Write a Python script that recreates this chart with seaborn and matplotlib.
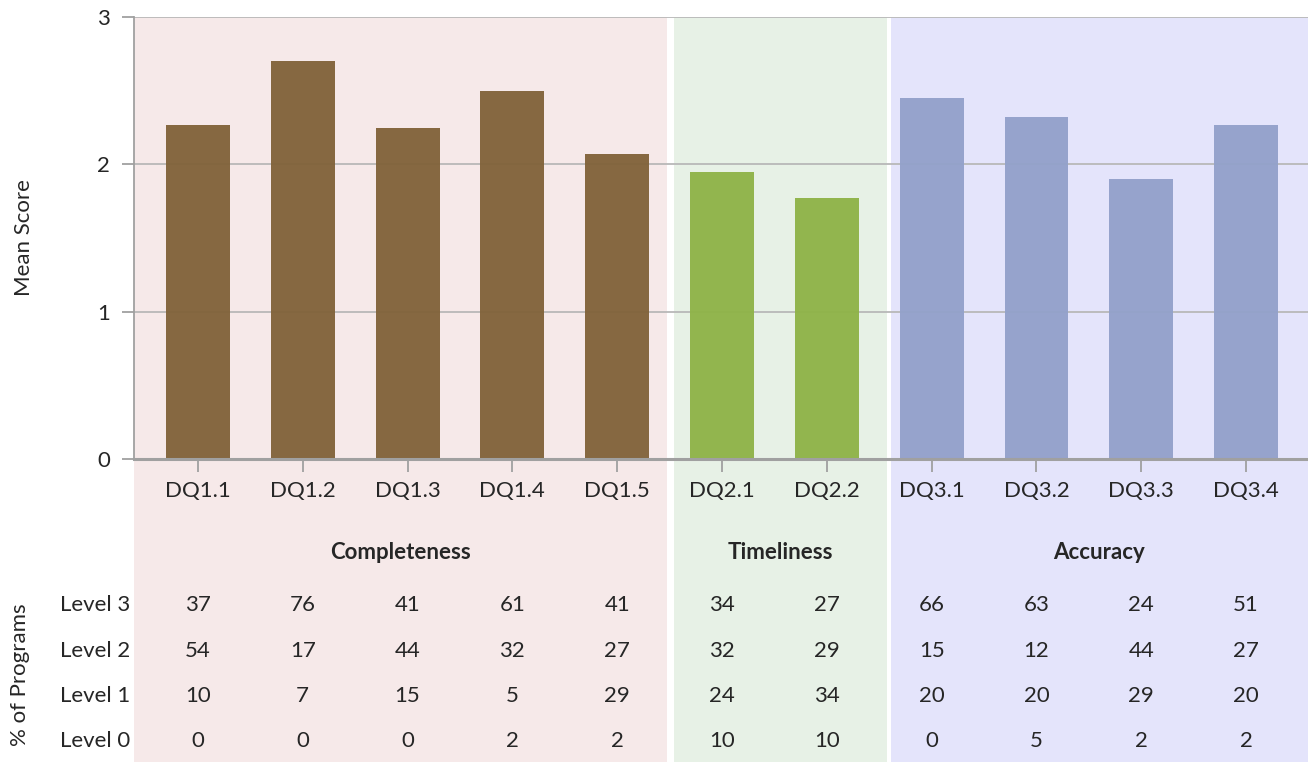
"""Mean data quality scores by indicator, with level breakdown table"""

import matplotlib
matplotlib.use('Agg')
import matplotlib.pyplot as plt
import matplotlib.transforms as mtransforms
from matplotlib.patches import Rectangle
import pandas as pd
import seaborn as sns

# Data
indicators = ['DQ1.1', 'DQ1.2', 'DQ1.3', 'DQ1.4', 'DQ1.5',
              'DQ2.1', 'DQ2.2',
              'DQ3.1', 'DQ3.2', 'DQ3.3', 'DQ3.4']
dimensions = ['Completeness'] * 5 + ['Timeliness'] * 2 + ['Accuracy'] * 4
mean_scores = [2.27, 2.70, 2.25, 2.50, 2.07, 1.95, 1.77, 2.45, 2.32, 1.90, 2.27]

level3 = [37, 76, 41, 61, 41, 34, 27, 66, 63, 24, 51]
level2 = [54, 17, 44, 32, 27, 32, 29, 15, 12, 44, 27]
level1 = [10, 7, 15, 5, 29, 24, 34, 20, 20, 29, 20]
level0 = [0, 0, 0, 2, 2, 10, 10, 0, 5, 2, 2]
level_labels = ['Level 3', 'Level 2', 'Level 1', 'Level 0']

dim_names = ['Completeness', 'Timeliness', 'Accuracy']
bar_colors = {'Completeness': '#81633a', 'Timeliness': '#8fb348', 'Accuracy': '#93a1ca'}
bg_colors = {'Completeness': '#f6e9e9', 'Timeliness': '#e7f1e6', 'Accuracy': '#e4e4fb'}

df = pd.DataFrame({'indicator': indicators, 'dimension': dimensions, 'score': mean_scores})

sns.set_style('white')
plt.rcParams['font.family'] = ['Lato', 'DejaVu Sans']

fig = plt.figure(figsize=(13.08, 7.62), dpi=100)
ax = fig.add_axes([0.1024, 0.3976, 0.8976, 0.5801])
ax.set_facecolor('none')

# Background bands (span from top of axes down to bottom of figure)
trans = mtransforms.blended_transform_factory(ax.transData, fig.transFigure)
x_left, x_right = -0.61, 10.59
spans = {'Completeness': (x_left, 4.475),
         'Timeliness': (4.54, 6.57),
         'Accuracy': (6.61, x_right)}
top_fig = 0.3976 + 0.5801
for name in dim_names:
    a, b = spans[name]
    fig.patches.append(Rectangle((a, 0), b - a, top_fig, transform=trans,
                                 facecolor=bg_colors[name], edgecolor='none', zorder=-5))

ax.yaxis.grid(True, color='#b8b8b8', linewidth=1.3, zorder=0)
ax.set_axisbelow(True)

sns.barplot(data=df, x='indicator', y='score', hue='dimension',
            palette=bar_colors, dodge=False, width=0.61, legend=False,
            saturation=1, alpha=0.96, edgecolor='none', linewidth=0,
            ax=ax, zorder=2)

ax.set_xlim(x_left, x_right)
ax.set_ylim(0, 3)
ax.set_yticks([0, 1, 2, 3])
ax.set_yticklabels(['0', '1', '2', '3'], fontsize=16)
ax.set_xlabel('')
ax.set_ylabel('Mean Score', fontsize=16)
ax.yaxis.set_label_coords(-0.085, 0.5)

for side in ['top', 'right']:
    ax.spines[side].set_visible(False)
ax.spines['left'].set_color('#a0a0a0')
ax.spines['left'].set_linewidth(1.3)
ax.spines['bottom'].set_color('#a0a0a0')
ax.spines['bottom'].set_linewidth(2.2)

ax.tick_params(axis='y', left=True, direction='out', length=9, width=1.3,
               color='#a0a0a0', pad=8)
ax.tick_params(axis='x', bottom=True, direction='out', length=9, width=1.3,
               color='#a0a0a0', pad=7, labelsize=16)

# Group labels
group_y = 0.2743
for name in dim_names:
    a, b = spans[name]
    ax.text((a + b) / 2, group_y, name, transform=trans, ha='center', va='center',
            fontsize=16, fontweight='bold')

# Table of level percentages
row_y = [0.206, 0.146, 0.0866, 0.0276]
rows = [level3, level2, level1, level0]
for yy, label, vals in zip(row_y, level_labels, rows):
    fig.text(0.0994, yy, label, ha='right', va='center', fontsize=16)
    for i, v in enumerate(vals):
        ax.text(i, yy, str(v), transform=trans, ha='center', va='center', fontsize=16)

fig.text(0.0153, 0.114, '% of Programs', rotation=90, ha='center', va='center', fontsize=16)

fig.savefig('out.png', dpi=100)
plt.close(fig)
